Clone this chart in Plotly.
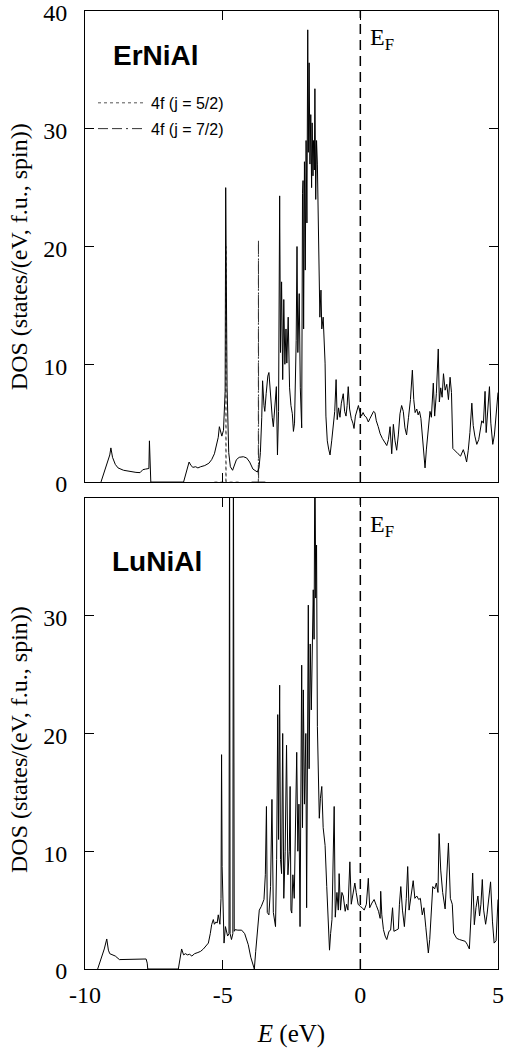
import plotly.graph_objects as go

# ---------------- data ----------------
# ErNiAl total DOS (top panel)
er_E = [-9.42, -9.30, -9.18, -9.10, -9.06, -9.00, -8.90, -8.80, -8.60, -8.40, -8.15, -8.00, -7.90, -7.80, -7.68, -7.66, -7.63, -7.61,
        -6.42, -6.30, -6.22, -6.15, -6.08, -5.98, -5.90, -5.80, -5.65, -5.50, -5.40, -5.30, -5.22, -5.16, -5.12, -5.07, -5.03, -4.97,
        -4.93, -4.91, -4.89, -4.87, -4.84, -4.78, -4.72, -4.64, -4.57, -4.50, -4.40, -4.25, -4.13, -4.02, -3.90, -3.80, -3.74, -3.68,
        -3.63, -3.58, -3.55, -3.50, -3.47, -3.42, -3.36, -3.32, -3.29, -3.25, -3.20, -3.16, -3.10, -3.05, -3.01, -2.97, -2.93, -2.90,
        -2.86, -2.82, -2.78, -2.74, -2.70, -2.67, -2.62, -2.57, -2.52, -2.47, -2.43, -2.39, -2.33, -2.30, -2.27, -2.22, -2.18, -2.13,
        -2.10, -2.08, -2.06, -2.03, -2.00, -1.97, -1.94, -1.91, -1.89, -1.86, -1.83, -1.80, -1.77, -1.75, -1.72, -1.70, -1.67, -1.65,
        -1.62, -1.59, -1.56, -1.53, -1.50, -1.47, -1.43, -1.40, -1.35, -1.31, -1.28, -1.25, -1.20, -1.15, -1.10, -1.04, -0.98, -0.93,
        -0.88, -0.84, -0.79, -0.74, -0.69, -0.62, -0.57, -0.52, -0.48, -0.44, -0.39, -0.33, -0.27, -0.23, -0.18, -0.12, -0.07, -0.02,
        0.04, 0.10, 0.16, 0.22, 0.29, 0.35, 0.42, 0.48, 0.53, 0.58, 0.65, 0.72, 0.80, 0.88, 0.96, 1.02, 1.08, 1.14, 1.20, 1.26, 1.32,
        1.38, 1.44, 1.50, 1.56, 1.62, 1.68, 1.75, 1.82, 1.89, 1.94, 1.99, 2.05, 2.10, 2.15, 2.20, 2.26, 2.31, 2.35, 2.40, 2.46, 2.53,
        2.58, 2.65, 2.70, 2.76, 2.83, 2.87, 2.92, 2.97, 3.02, 3.08, 3.14, 3.20, 3.26, 3.31, 3.36, 3.45, 3.55, 3.64, 3.74, 3.80, 3.86,
        3.92, 3.98, 4.05, 4.10, 4.16, 4.23, 4.30, 4.36, 4.41, 4.47, 4.53, 4.57, 4.62, 4.65, 4.69, 4.74, 4.81, 4.87, 4.95, 5.00]
er_dos = [0.0, 0.8, 1.6, 2.3, 2.9, 2.1, 1.5, 1.2, 1.0, 0.9, 0.82, 0.8, 1.05, 1.1, 1.15, 3.5, 1.0, 0.0,
          0.0, 1.0, 1.7, 1.4, 1.25, 1.3, 1.2, 1.3, 1.4, 1.6, 1.9, 2.4, 3.1, 3.8, 4.7, 4.3, 3.9, 4.4,
          6.0, 7.7, 25.0, 14.0, 8.0, 2.5, 1.3, 1.0, 1.5, 1.9, 2.1, 2.15, 2.05, 1.7, 1.1, 0.9, 0.85, 1.2,
          2.5, 5.5, 8.6, 6.5, 6.0, 7.5, 9.0, 9.3, 8.2, 7.0, 5.5, 4.7, 6.5, 8.1, 2.3, 6.0, 24.3, 11.0,
          17.0, 8.7, 15.5, 10.0, 13.0, 10.1, 14.0, 8.0, 6.5, 5.8, 4.3, 5.0, 12.0, 20.0, 11.0, 16.0, 8.0, 4.6,
          24.5, 25.6, 13.0, 27.2, 18.0, 29.0, 22.0, 38.4, 28.0, 35.6, 27.0, 31.2, 25.0, 30.5, 26.0, 29.0, 26.5, 33.4,
          24.0, 29.0, 27.0, 22.0, 16.0, 14.0, 16.3, 13.0, 14.0, 11.0, 10.1, 5.6, 3.5, 2.8, 2.3, 3.5, 4.8, 6.0,
          8.7, 5.3, 6.3, 5.5, 6.7, 7.5, 6.0, 5.6, 6.5, 8.1, 6.2, 5.4, 5.0, 4.55, 5.6, 6.1, 6.5, 6.0,
          5.6, 5.9, 5.6, 5.5, 5.1, 5.4, 5.7, 6.0, 5.9, 5.2, 4.7, 4.1, 3.7, 3.4, 3.1, 3.6, 4.7, 2.4, 4.9, 3.5, 2.7,
          4.0, 5.8, 6.5, 6.0, 4.6, 4.0, 5.5, 7.0, 9.5, 7.0, 5.9, 6.2, 5.7, 6.0, 5.4, 3.5, 2.0, 1.2, 2.8, 4.5, 6.0,
          5.5, 8.4, 5.6, 7.5, 11.3, 6.8, 8.0, 7.2, 9.2, 7.8, 8.3, 7.0, 8.9, 7.6, 2.85, 2.6, 2.4, 2.2, 2.75, 2.3, 1.7,
          2.7, 4.2, 6.7, 4.8, 3.9, 3.2, 3.6, 4.4, 5.2, 5.0, 7.7, 4.2, 5.8, 6.5, 8.1, 5.0, 3.2, 4.0, 6.0, 7.6]

# ErNiAl 4f partial DOS
f52_E = [-5.30, -4.885, -4.88, -4.875, -4.40]
f52_dos = [0.0, 0.0, 20.0, 0.0, 0.0]
f72_E = [-3.95, -3.705, -3.70, -3.695, -3.45]
f72_dos = [0.0, 0.0, 20.5, 0.0, 0.0]

# LuNiAl total DOS (bottom panel)
lu_E = [-9.54, -9.40, -9.30, -9.21, -9.15, -9.10, -9.00, -8.90, -8.75, -8.40, -8.00, -7.78, -7.74, -7.72,
        -6.61, -6.55, -6.49, -6.42, -6.35, -6.28, -6.20, -6.12, -6.02, -5.90, -5.80, -5.70, -5.60, -5.52, -5.45,
        -5.40, -5.34, -5.30, -5.24, -5.20, -5.16, -5.10, -5.06, -5.04, -5.02, -4.98, -4.95, -4.90, -4.82, -4.77,
        -4.75, -4.73, -4.68, -4.63, -4.61, -4.58, -4.55, -4.45, -4.31, -4.20, -4.07, -3.98, -3.85, -3.80, -3.76,
        -3.70, -3.67, -3.60, -3.50, -3.45, -3.41, -3.38, -3.32, -3.26, -3.21, -3.16, -3.08, -3.04, -3.00, -2.97,
        -2.93, -2.90, -2.86, -2.82, -2.78, -2.73, -2.68, -2.63, -2.58, -2.55, -2.52, -2.49, -2.45, -2.40, -2.35,
        -2.31, -2.27, -2.23, -2.19, -2.15, -2.13, -2.10, -2.07, -2.03, -1.98, -1.95, -1.92, -1.89, -1.86, -1.82,
        -1.78, -1.74, -1.71, -1.68, -1.65, -1.62, -1.59, -1.56, -1.53, -1.49, -1.45, -1.40, -1.35, -1.28, -1.22,
        -1.16, -1.12, -1.08, -1.03, -0.95, -0.91, -0.85, -0.80, -0.77, -0.72, -0.67, -0.62, -0.55, -0.50, -0.45,
        -0.38, -0.33, -0.28, -0.20, -0.15, -0.08, 0.00, 0.07, 0.14, 0.22, 0.29, 0.34, 0.42, 0.50, 0.58, 0.66,
        0.72, 0.74, 0.78, 0.84, 0.90, 0.96, 1.04, 1.10, 1.17, 1.22, 1.30, 1.38, 1.42, 1.47, 1.53, 1.60, 1.67,
        1.72, 1.77, 1.85, 1.92, 1.98, 2.05, 2.12, 2.18, 2.25, 2.31, 2.38, 2.43, 2.47, 2.52, 2.58, 2.63, 2.70,
        2.76, 2.82, 2.86, 2.92, 2.99, 3.08, 3.14, 3.20, 3.27, 3.34, 3.39, 3.50, 3.60, 3.70, 3.81, 3.88, 3.96,
        4.02, 4.08, 4.14, 4.20, 4.27, 4.33, 4.38, 4.43, 4.48, 4.55, 4.60, 4.65, 4.73, 4.80, 4.86, 4.93, 5.00]
lu_dos = [0.0, 1.0, 1.7, 2.55, 1.6, 1.3, 1.2, 1.1, 0.8, 0.8, 0.8, 0.85, 0.5, 0.0,
          0.0, 0.8, 1.7, 1.2, 1.3, 1.2, 1.25, 1.1, 1.3, 1.4, 1.5, 1.7, 2.0, 2.2, 3.0,
          3.76, 4.2, 3.8, 4.0, 3.9, 4.6, 3.8, 6.0, 18.2, 8.7, 4.0, 2.2, 3.6, 2.8, 3.0,
          45.0, 3.0, 2.5, 3.0, 45.0, 3.2, 3.34, 3.3, 3.3, 3.0, 2.06, 1.0, 0.0, 1.5, 2.5,
          4.5, 5.0, 5.3, 5.9, 8.0, 13.8, 4.8, 4.6, 7.0, 14.4, 4.8, 3.6, 9.3, 21.6, 11.0,
          24.1, 9.3, 8.1, 20.0, 6.0, 10.0, 19.0, 8.0, 10.0, 15.5, 5.0, 4.75, 8.0, 6.0, 12.0,
          18.4, 10.0, 14.0, 3.6, 16.0, 25.8, 12.0, 23.7, 14.0, 20.0, 5.2, 22.0, 30.9, 17.0, 27.6,
          22.0, 29.0, 32.2, 28.0, 45.0, 31.5, 36.0, 20.6, 18.0, 12.8, 14.5, 15.5, 12.0, 10.5, 7.0,
          3.8, 1.6, 3.0, 4.2, 13.8, 4.4, 6.5, 5.0, 8.1, 5.0, 6.5, 6.2, 4.9, 5.5, 5.0,
          9.1, 5.5, 6.2, 7.3, 6.5, 5.5, 5.3, 5.2, 5.0, 5.5, 7.7, 5.2, 5.6, 5.9, 5.4, 4.9,
          4.3, 6.6, 4.6, 3.34, 2.8, 2.5, 3.2, 3.3, 5.2, 3.2, 3.3, 3.4, 5.5, 7.0, 5.0, 3.6, 6.0,
          8.7, 5.0, 6.5, 7.5, 6.0, 6.2, 5.9, 6.0, 4.6, 5.2, 3.5, 1.8, 1.36, 2.5, 5.0, 7.0, 6.8,
          7.3, 6.5, 11.5, 8.4, 6.5, 5.1, 7.5, 10.7, 6.0, 5.5, 3.05, 2.6, 2.5, 2.4, 2.35, 2.1, 1.7,
          4.5, 8.15, 3.76, 5.2, 6.2, 4.5, 5.5, 7.6, 5.0, 3.8, 4.6, 5.5, 7.4, 4.0, 2.2, 2.4, 5.9]

fermi_E = [0.0, 0.0]
fermi_dos = [0.0, 40.0]

x_ticks = [-10, -5, 0, 5]
y_ticks_top = [0, 10, 20, 30, 40]
y_ticks_bot = [0, 10, 20, 30]

# ---------------- figure ----------------
SERIF = "Liberation Serif"
SANS = "Liberation Sans"

fig = go.Figure()

# top panel (ErNiAl)
fig.add_trace(go.Scatter(x=f52_E, y=f52_dos, mode="lines", name="4f (j = 5/2)", legendgroup="a",
                         line=dict(color="#555555", width=1, dash="dot"), xaxis="x2", yaxis="y2"))
fig.add_trace(go.Scatter(x=f72_E, y=f72_dos, mode="lines", name="4f (j = 7/2)", legendgroup="b",
                         line=dict(color="#333333", width=1, dash="10px,4px,10px,4px,2px,4px"), xaxis="x2", yaxis="y2"))
fig.add_trace(go.Scatter(x=er_E, y=er_dos, mode="lines", showlegend=False,
                         line=dict(color="black", width=1), xaxis="x2", yaxis="y2"))
fig.add_trace(go.Scatter(x=fermi_E, y=fermi_dos, mode="lines", showlegend=False,
                         line=dict(color="black", width=1.5, dash="10px,6px"), xaxis="x2", yaxis="y2"))

# bottom panel (LuNiAl)
fig.add_trace(go.Scatter(x=lu_E, y=lu_dos, mode="lines", showlegend=False,
                         line=dict(color="black", width=1), xaxis="x", yaxis="y"))
fig.add_trace(go.Scatter(x=fermi_E, y=fermi_dos, mode="lines", showlegend=False,
                         line=dict(color="black", width=1.5, dash="10px,6px"), xaxis="x", yaxis="y"))

axis_common = dict(showline=True, linecolor="black", linewidth=1, mirror="ticks",
                   ticks="inside", ticklen=9, tickwidth=1, tickcolor="black",
                   showgrid=False, zeroline=False, ticklabeloverflow="allow", automargin=False,
                   tickfont=dict(family=SERIF, size=24, color="black"))

fig.update_layout(
    width=511, height=1048, autosize=False,
    margin=dict(l=85, r=13, t=11, b=79, autoexpand=False),
    paper_bgcolor="white", plot_bgcolor="white",
    xaxis=dict(range=[-10, 5], tickvals=x_ticks, ticktext=[str(v) for v in x_ticks],
               anchor="y", ticklabelstandoff=4,
               title=dict(text="<i>E</i> (eV)", font=dict(family=SERIF, size=25, color="black"), standoff=23),
               **axis_common),
    xaxis2=dict(range=[-10, 5], tickvals=x_ticks, showticklabels=False, anchor="y2", matches="x",
                **axis_common),
    yaxis=dict(range=[0, 40], domain=[0, 0.4917], tickvals=y_ticks_bot, anchor="x",
               ticklabelstandoff=12, ticklabelshift=2, **axis_common),
    yaxis2=dict(range=[0, 40], domain=[0.5083, 1], tickvals=y_ticks_top, anchor="x2",
                ticklabelstandoff=12, ticklabelshift=2, **axis_common),
    showlegend=True,
    legend=dict(x=0.0194, y=0.9218, xanchor="left", yanchor="top",
                font=dict(family=SANS, size=16, color="black"),
                bgcolor="rgba(0,0,0,0)", borderwidth=0, itemwidth=48, tracegroupgap=2),
)

ylab = "DOS (states/(eV, f.u., spin))"
annots = [
    dict(text=ylab, xref="paper", yref="paper", x=-0.158, y=0.7438, textangle=-90,
         xanchor="center", yanchor="middle", showarrow=False,
         font=dict(family=SERIF, size=24, color="black")),
    dict(text=ylab, xref="paper", yref="paper", x=-0.158, y=0.2398, textangle=-90,
         xanchor="center", yanchor="middle", showarrow=False,
         font=dict(family=SERIF, size=24, color="black")),
    dict(text="<b>ErNiAl</b>", xref="x2", yref="y2", x=-7.42, y=36.2, showarrow=False,
         xanchor="center", yanchor="middle", font=dict(family=SANS, size=28, color="black")),
    dict(text="<b>LuNiAl</b>", xref="x", yref="y", x=-7.40, y=34.6, showarrow=False,
         xanchor="center", yanchor="middle", font=dict(family=SANS, size=28, color="black")),
    dict(text="E<sub>F</sub>", xref="x2", yref="y2", x=0.275, y=37.6, showarrow=False,
         xanchor="left", yanchor="middle", font=dict(family=SERIF, size=24, color="black")),
    dict(text="E<sub>F</sub>", xref="x", yref="y", x=0.275, y=37.6, showarrow=False,
         xanchor="left", yanchor="middle", font=dict(family=SERIF, size=24, color="black")),
]
fig.update_layout(annotations=annots)

fig.write_html("out.html", config={"displayModeBar": False},
               post_script="document.body.style.margin='0';document.body.style.overflow='hidden';")
